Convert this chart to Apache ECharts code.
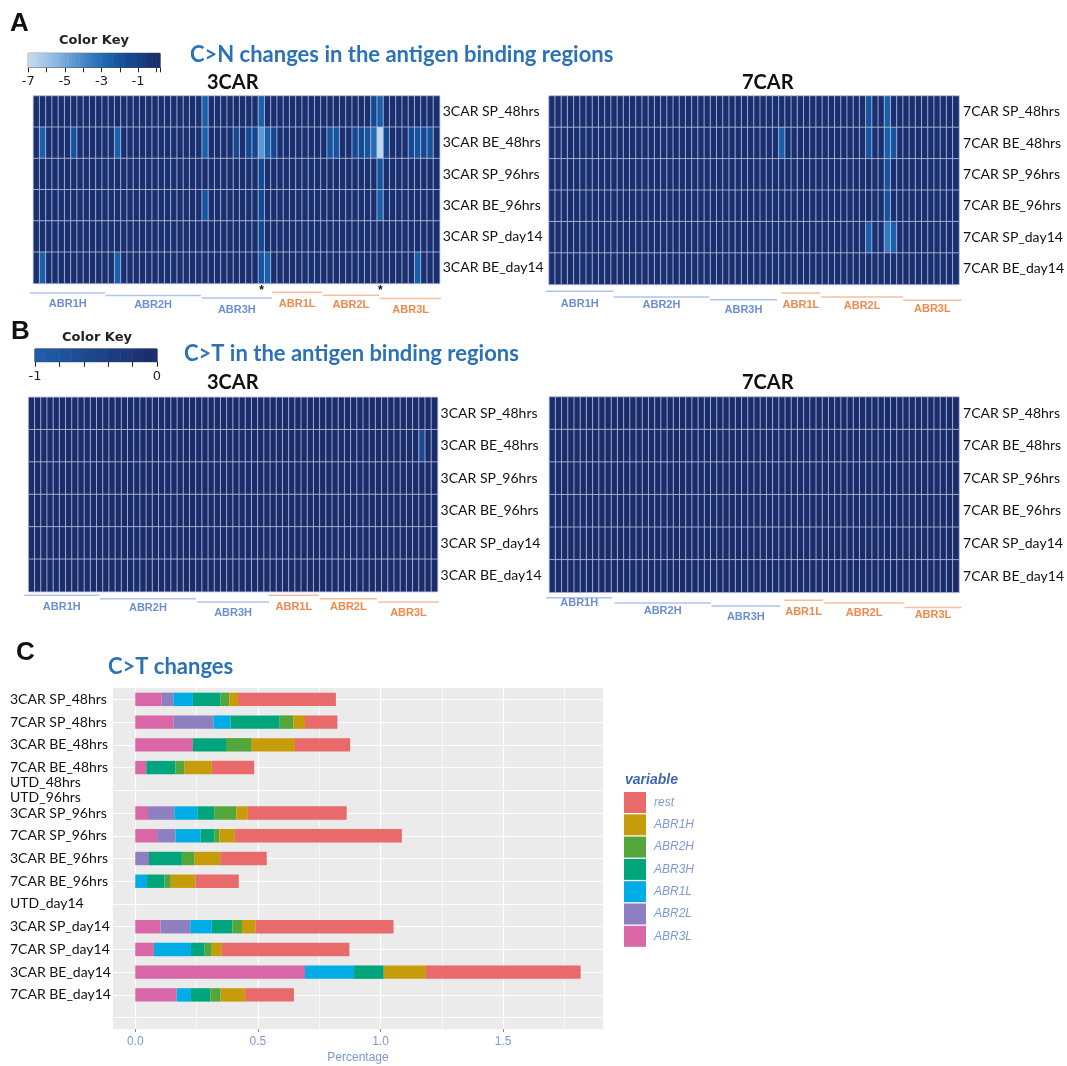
<!DOCTYPE html>
<html><head><meta charset="utf-8">
<script src="https://cdn.jsdelivr.net/npm/echarts@6/dist/echarts.min.js"></script>
<style>html,body{margin:0;padding:0;background:#fff}#c{width:1067px;height:1066px}</style>
</head><body><div id="c"></div>
<script>
// ---------------- DATA ----------------
const rows3 = ['3CAR SP_48hrs','3CAR BE_48hrs','3CAR SP_96hrs','3CAR BE_96hrs','3CAR SP_day14','3CAR BE_day14'];
const rows7 = ['7CAR SP_48hrs','7CAR BE_48hrs','7CAR SP_96hrs','7CAR BE_96hrs','7CAR SP_day14','7CAR BE_day14'];

// Panel A, 3CAR (C>N, log scale values), 65 positions
const a3SP48 = [
 0,0,0,0,0,0,0,0,0,0,
 0,0,0,0,0,0,0,0,0,0,
 0,0,0,0,0,0,0,-2.5,0,0,
 0,0,0,0,0,0,-2.5,0,0,0,
 0,0,0,0,0,0,0,0,0,0,
 0,0,0,0,-1.5,-2.5,0,0,0,0,
 0,0,0,0,0];
const a3BE48 = [
 0,-2.5,0,0,0,0,-2,0,0,0,
 0,0,0,-2.5,0,0,0,0,0,0,
 0,0,0,0,0,0,0,-2.5,0,0,
 0,0,-1.5,0,-1.5,-1.5,-4.5,-2.5,-1.5,0,
 0,0,0,0,0,0,0,-2,-2,0,
 0,-1.5,-1.5,-2,-3,-6.8,-1.5,0,0,0,
 -1.5,-2,-1.5,-2,0];
const a3SP96 = [
 0,0,0,0,0,0,0,0,0,0,
 0,0,0,0,0,0,0,0,0,0,
 0,0,0,0,0,0,0,0,0,0,
 0,0,0,0,0,0,-1.5,0,0,0,
 0,0,0,0,0,0,0,0,0,0,
 0,0,0,0,0,-2,0,0,0,0,
 0,0,0,0,0];
const a3BE96 = [
 0,0,0,0,0,0,0,0,0,0,
 0,0,0,0,0,0,0,0,0,0,
 0,0,0,0,0,0,0,-2,0,0,
 0,0,0,0,0,0,-1.5,0,0,0,
 0,0,0,0,0,0,0,0,0,0,
 0,0,0,0,0,-2.5,0,0,0,0,
 0,0,0,0,0];
const a3SPd14 = [
 0,0,0,0,0,0,0,0,0,0,
 0,0,0,0,0,0,0,0,0,0,
 0,0,0,0,0,0,0,0,0,0,
 0,0,0,0,0,0,-1.5,0,0,0,
 0,0,0,0,0,0,0,0,0,0,
 0,0,0,0,0,0,0,0,0,0,
 0,0,0,0,0];
const a3BEd14 = [
 0,-2.5,0,0,0,0,0,0,0,0,
 0,0,0,-2.5,0,0,0,0,0,0,
 0,0,0,0,0,0,0,0,0,0,
 0,0,0,0,0,0,-2,-2.5,0,0,
 0,0,0,0,0,0,0,0,0,0,
 0,0,0,0,0,0,0,0,0,0,
 0,-2.5,0,0,0];

// Panel A, 7CAR, 66 positions
const a7SP48 = [
 0,0,0,0,0,0,0,0,0,0,
 0,0,0,0,0,0,0,0,0,0,
 0,0,0,0,0,0,0,0,0,0,
 0,0,0,0,0,0,0,0,0,0,
 0,0,0,0,0,0,0,0,0,0,
 0,-2,0,0,-2.5,0,0,0,0,0,
 0,0,0,0,0,0];
const a7BE48 = [
 0,0,0,0,0,0,0,0,0,0,
 0,0,0,0,0,0,0,0,0,0,
 0,0,0,0,0,0,0,0,0,0,
 0,0,0,0,0,0,0,-2.5,0,0,
 0,0,0,0,0,0,0,0,0,0,
 0,-2,0,0,-2.5,-2,0,0,0,0,
 0,0,0,0,0,0];
const a7SP96 = [
 0,0,0,0,0,0,0,0,0,0,
 0,0,0,0,0,0,0,0,0,0,
 0,0,0,0,0,0,0,0,0,0,
 0,0,0,0,0,0,0,0,0,0,
 0,0,0,0,0,0,0,0,0,0,
 0,0,0,0,-2,0,0,0,0,0,
 0,0,0,0,0,0];
const a7BE96 = [
 0,0,0,0,0,0,0,0,0,0,
 0,0,0,0,0,0,0,0,0,0,
 0,0,0,0,0,0,0,0,0,0,
 0,0,0,0,0,0,0,0,0,0,
 0,0,0,0,0,0,0,0,0,0,
 0,0,0,0,-2,0,0,0,0,0,
 0,0,0,0,0,0];
const a7SPd14 = [
 0,0,0,0,0,0,0,0,0,0,
 0,0,0,0,0,0,0,0,0,0,
 0,0,0,0,0,0,0,0,0,0,
 0,0,0,0,0,0,0,0,0,0,
 0,0,0,0,0,0,0,0,0,0,
 0,-2.5,0,0,-3.5,-2.5,0,0,0,0,
 0,0,0,0,0,0];
const a7BEd14 = [
 0,0,0,0,0,0,0,0,0,0,
 0,0,0,0,0,0,0,0,0,0,
 0,0,0,0,0,0,0,0,0,0,
 0,0,0,0,0,0,0,0,0,0,
 0,0,0,0,0,0,0,0,0,0,
 0,0,0,0,0,0,0,0,0,0,
 0,0,0,0,0,0];

// Panel B, 3CAR (C>T), 66 positions
const b3SP48 = [
 0,0,0,0,0,0,0,0,0,0, 0,0,0,0,0,0,0,0,0,0, 0,0,0,0,0,0,0,0,0,0,
 0,0,0,0,0,0,0,0,0,0, 0,0,0,0,0,0,0,0,0,0, 0,0,0,0,0,0,0,0,0,0, 0,0,0,0,0,0];
const b3BE48 = [
 0,0,0,0,0,0,0,0,0,0, 0,0,0,0,0,0,0,0,0,0, 0,0,0,0,0,0,0,0,0,0,
 0,0,0,0,0,0,0,0,0,0, 0,0,0,0,0,0,0,0,0,0, 0,0,0,0,0,0,0,0,0,0, 0,0,0,-0.6,0,0];
const b3SP96 = [
 0,0,0,0,0,0,0,0,0,0, 0,0,0,0,0,0,0,0,0,0, 0,0,0,0,0,0,0,0,0,0,
 0,0,0,0,0,0,0,0,0,0, 0,0,0,0,0,0,0,0,0,0, 0,0,0,0,0,0,0,0,0,0, 0,0,0,0,0,0];
const b3BE96 = [
 0,0,0,0,0,0,0,0,0,0, 0,0,0,0,0,0,0,0,0,0, 0,0,0,0,0,0,0,0,0,0,
 0,0,0,0,0,0,0,0,0,0, 0,0,0,0,0,0,0,0,0,0, 0,0,0,0,0,0,0,0,0,0, 0,0,0,0,0,0];
const b3SPd14 = [
 0,0,0,0,0,0,0,0,0,0, 0,0,0,0,0,0,0,0,0,0, 0,0,0,0,0,0,0,0,0,0,
 0,0,0,0,0,0,0,0,0,0, 0,0,0,0,0,0,0,0,0,0, 0,0,0,0,0,0,0,0,0,0, 0,0,0,0,0,0];
const b3BEd14 = [
 0,0,0,0,0,0,0,0,0,0, 0,0,0,0,0,0,0,0,0,0, 0,0,0,0,0,0,0,0,0,0,
 0,0,0,0,0,0,0,0,0,0, 0,0,0,0,0,0,0,0,0,0, 0,0,0,0,0,0,0,0,0,0, 0,0,0,0,0,0];

// Panel B, 7CAR, 66 positions
const b7SP48 = [
 0,0,0,0,0,0,0,0,0,0, 0,0,0,0,0,0,0,0,0,0, 0,0,0,0,0,0,0,0,0,0,
 0,0,0,0,0,0,0,0,0,0, 0,0,0,0,0,0,0,0,0,0, 0,0,0,0,0,0,0,0,0,0, 0,0,0,0,0,0];
const b7BE48 = [
 0,0,0,0,0,0,0,0,0,0, 0,0,0,0,0,0,0,0,0,0, 0,0,0,0,0,0,0,0,0,0,
 0,0,0,0,0,0,0,0,0,0, 0,0,0,0,0,0,0,0,0,0, 0,0,0,0,0,0,0,0,0,0, 0,0,0,0,0,0];
const b7SP96 = [
 0,0,0,0,0,0,0,0,0,0, 0,0,0,0,0,0,0,0,0,0, 0,0,0,0,0,0,0,0,0,0,
 0,0,0,0,0,0,0,0,0,0, 0,0,0,0,0,0,0,0,0,0, 0,0,0,0,0,0,0,0,0,0, 0,0,0,0,0,0];
const b7BE96 = [
 0,0,0,0,0,0,0,0,0,0, 0,0,0,0,0,0,0,0,0,0, 0,0,0,0,0,0,0,0,0,0,
 0,0,0,0,0,0,0,0,0,0, 0,0,0,0,0,0,0,0,0,0, 0,0,0,0,0,0,0,0,0,0, 0,0,0,0,0,0];
const b7SPd14 = [
 0,0,0,0,0,0,0,0,0,0, 0,0,0,0,0,0,0,0,0,0, 0,0,0,0,0,0,0,0,0,0,
 0,0,0,0,0,0,0,0,0,0, 0,0,0,0,0,0,0,0,0,0, 0,0,0,0,0,0,0,0,0,0, 0,0,0,0,0,0];
const b7BEd14 = [
 0,0,0,0,0,0,0,0,0,0, 0,0,0,0,0,0,0,0,0,0, 0,0,0,0,0,0,0,0,0,0,
 0,0,0,0,0,0,0,0,0,0, 0,0,0,0,0,0,0,0,0,0, 0,0,0,0,0,0,0,0,0,0, 0,0,0,0,0,0];

// Color key steps
const keyAVals = [-6.9,-6.7,-6.5,-6.3,-6.1,-5.9,-5.7,-5.5,-5.3,-5.1,-4.9,-4.7,-4.5,-4.3,-4.1,-3.9,-3.7,-3.5,
                  -3.3,-3.1,-2.9,-2.7,-2.5,-2.3,-2.1,-1.9,-1.7,-1.5,-1.3,-1.1,-0.9,-0.7,-0.5,-0.3,-0.1,0.1];
const keyBVals = [-0.95,-0.85,-0.75,-0.65,-0.55,-0.45,-0.35,-0.25,-0.15,-0.05];

// Antigen binding region spans (in column units)
const regionNames = ['ABR1H','ABR2H','ABR3H','ABR1L','ABR2L','ABR3L'];
const spansA3 = [[-0.5,11.5],[11.5,26.8],[26.9,38.2],[38.2,46.2],[46.3,55.3],[55.5,65.2]];
const spansA7 = [[-0.5,10.4],[10.4,25.8],[25.9,36.7],[37.4,43.7],[43.8,57],[57,66.4]];
const spansB3 = [[-0.7,11.4],[11.5,27],[27.2,38.8],[38.8,46.8],[47,56.2],[56.4,66.2]];
const spansB7 = [[-0.5,10.1],[10.5,26],[26.1,37.2],[37.8,44.1],[44.2,57.2],[57.2,66.4]];
const starColsA3 = [36, 55];

// Panel C
const catC = ['3CAR SP_48hrs','7CAR SP_48hrs','3CAR BE_48hrs','7CAR BE_48hrs','UTD_48hrs\nUTD_96hrs',
  '3CAR SP_96hrs','7CAR SP_96hrs','3CAR BE_96hrs','7CAR BE_96hrs','UTD_day14',
  '3CAR SP_day14','7CAR SP_day14','3CAR BE_day14','7CAR BE_day14',''];
const ABR3L = [0.108,0.155,0.235,0.045,0,0.052,0.089,0,0,0,0.103,0.076,0.692,0.169,0];
const ABR2L = [0.047,0.165,0,0,0,0.107,0.075,0.056,0,0,0.121,0,0,0,0];
const ABR1L = [0.080,0.068,0,0,0,0.094,0.102,0,0.048,0,0.088,0.151,0.200,0.058,0];
const ABR3H = [0.113,0.201,0.135,0.119,0,0.069,0.056,0.134,0.071,0,0.084,0.056,0.121,0.079,0];
const ABR2H = [0.035,0.055,0.105,0.037,0,0.090,0.021,0.052,0.026,0,0.039,0.029,0,0.042,0];
const ABR1H = [0.036,0.048,0.176,0.111,0,0.047,0.063,0.104,0.100,0,0.056,0.041,0.172,0.100,0];
const rest  = [0.399,0.132,0.225,0.173,0,0.403,0.681,0.190,0.177,0,0.562,0.520,0.631,0.199,0];
const legendOrder = ['rest','ABR1H','ABR2H','ABR3H','ABR1L','ABR2L','ABR3L'];
const pctMajor = [0, 0.5, 1.0, 1.5];
const pctMinor = [0.25, 0.75, 1.25, 1.75];

// ---------------- CHART ----------------
const FONT_L = 'Lato, "Open Sans", sans-serif';
const FONT_A = '"Liberation Sans", Arial, sans-serif';
const FONT_D = '"DejaVu Sans", Verdana, sans-serif';
const colors = {rest:'#E96A6A', ABR1H:'#C69C0A', ABR2H:'#52A63A', ABR3H:'#00A57B', ABR1L:'#00ADE6', ABR2L:'#8E80C0', ABR3L:'#D966A6'};

const chart = echarts.init(document.getElementById('c'));
const grids = [], xAxes = [], yAxes = [], series = [];

const heatSets = [
  {rows:[a3SP48,a3BE48,a3SP96,a3BE96,a3SPd14,a3BEd14], names:rows3, grid:{left:33.4, top:96, width:406.3, height:187.5}, margin:3},
  {rows:[a7SP48,a7BE48,a7SP96,a7BE96,a7SPd14,a7BEd14], names:rows7, grid:{left:549, top:96, width:413, height:188.5}, margin:4},
  {rows:[b3SP48,b3BE48,b3SP96,b3BE96,b3SPd14,b3BEd14], names:rows3, grid:{left:28.6, top:397.3, width:409, height:194.4}, margin:3},
  {rows:[b7SP48,b7BE48,b7SP96,b7BE96,b7SPd14,b7BEd14], names:rows7, grid:{left:549.4, top:397, width:414, height:195.4}, margin:4}
];
heatSets.forEach((h,i)=>{
  grids.push(Object.assign({}, h.grid));
  xAxes.push({type:'category', gridIndex:i, data:h.rows[0].map((_,c)=>String(c)), show:false});
  yAxes.push({type:'category', gridIndex:i, data:h.names, inverse:true, position:'right',
    axisLine:{show:false}, axisTick:{show:false}, splitLine:{show:false},
    axisLabel:{margin:h.margin, fontSize:14, color:'#111', fontFamily:FONT_L, interval:0}});
  const data=[]; h.rows.forEach((r,y)=>r.forEach((v,x)=>data.push([x,y,v])));
  series.push({type:'heatmap', xAxisIndex:i, yAxisIndex:i, data, silent:true, progressive:0,
    itemStyle:{borderColor:'rgba(188,196,224,0.78)', borderWidth:1}, emphasis:{disabled:true}});
});

// color keys
const keys = [
  {vals:keyAVals, grid:{left:28.3, top:53.3, width:131.7, height:14}, min:-7, max:0.2, interval:1,
   fmt:v=>{const r=Math.round(v); return (Math.abs(v-r)<1e-6 && r%2!==0) ? String(r) : '';}},
  {vals:keyBVals, grid:{left:35, top:349, width:122, height:12.7}, min:-1, max:0, interval:0.2,
   fmt:v=>Math.abs(v+1)<1e-6 ? '-1' : (Math.abs(v)<1e-6 ? '0' : '')}
];
keys.forEach((k,j)=>{
  const gi = 4+j;
  grids.push(Object.assign({show:true, borderColor:'#222', borderWidth:1, backgroundColor:'transparent'}, k.grid));
  const xc = xAxes.length;
  xAxes.push({type:'category', gridIndex:gi, data:k.vals.map((_,c)=>String(c)), show:false, position:'top'});
  xAxes.push({type:'value', gridIndex:gi, position:'bottom', min:k.min, max:k.max, interval:k.interval,
    splitLine:{show:false}, axisLine:{show:false},
    axisTick:{show:true, length:5, lineStyle:{color:'#222', width:1}},
    axisLabel:{formatter:k.fmt, fontSize:13, color:'#222', margin:8, fontFamily:FONT_D}});
  const yc = yAxes.length;
  yAxes.push({type:'category', gridIndex:gi, data:['k'], show:false});
  series.push({type:'heatmap', xAxisIndex:xc, yAxisIndex:yc, silent:true,
    data:k.vals.map((v,c)=>[c,0,v]), itemStyle:{borderWidth:0}});
});

// bar chart
grids.push({left:113, top:688, width:490, height:341, show:true, backgroundColor:'#EBEBEB', borderWidth:0});
const barX = xAxes.length, barY = yAxes.length;
xAxes.push({type:'value', gridIndex:6, min:-0.0908, max:1.907, splitLine:{show:false}, axisLine:{show:false},
  axisTick:{show:true, customValues:pctMajor, length:3, lineStyle:{color:'#8a8a8a'}},
  axisLabel:{customValues:pctMajor, formatter:v=>v.toFixed(1), color:'#7C9AD2', fontSize:12, margin:7, fontFamily:FONT_A},
  name:'Percentage', nameLocation:'middle', nameGap:23, nameTextStyle:{color:'#7C9AD2', fontSize:12, fontFamily:FONT_A}});
yAxes.push({type:'category', gridIndex:6, data:catC, inverse:true, axisLine:{show:false}, axisTick:{show:false},
  splitLine:{show:false}, axisLabel:{align:'left', margin:103, fontSize:14, color:'#111', fontFamily:FONT_L, interval:0, lineHeight:15}});

const stackOrder = [['ABR3L',ABR3L],['ABR2L',ABR2L],['ABR1L',ABR1L],['ABR3H',ABR3H],['ABR2H',ABR2H],['ABR1H',ABR1H],['rest',rest]];
stackOrder.forEach(([name,vals],i)=>{
  const s = {type:'bar', name, xAxisIndex:barX, yAxisIndex:barY, stack:'tot', data:vals, barWidth:'59%',
    silent:true, itemStyle:{color:colors[name]}, z:3};
  if(i===0){
    s.markLine = {silent:true, symbol:'none', z:1, animation:false, label:{show:false},
      lineStyle:{color:'#ffffff', width:1.2, type:'solid'}, emphasis:{disabled:true},
      data:[].concat(
        pctMajor.map(v=>({xAxis:v})),
        pctMinor.map(v=>({xAxis:v, lineStyle:{color:'#ffffff', width:0.6, type:'solid'}})),
        catC.map((c,ci)=>({yAxis:ci}))
      )};
  }
  series.push(s);
});

const option = {
  animation:false,
  backgroundColor:'#ffffff',
  grid:grids, xAxis:xAxes, yAxis:yAxes, series,
  visualMap:[
    {type:'continuous', show:false, min:-7, max:0.2, seriesIndex:[0,1,4], dimension:2,
     inRange:{color:['#C8DCF0','#A6C8E8','#7EAFDC','#5592CD','#2E76BC','#1860AA','#144A95','#163A80','#1B2C6A']}},
    {type:'continuous', show:false, min:-1, max:0, seriesIndex:[2,3,5], dimension:2,
     inRange:{color:['#1F5EAC','#1B2C6A']}}
  ],
  legend:{data:legendOrder, orient:'vertical', left:624, top:792, itemWidth:22, itemHeight:21, itemGap:1.3,
    icon:'rect', padding:0, selectedMode:false,
    textStyle:{fontStyle:'italic', color:'#7E9BD3', fontSize:12, fontFamily:FONT_A, padding:[0,0,0,3]}}
};
chart.setOption(option);

// ---------------- ANNOTATIONS ----------------
function txt(text, x, y, font, fill, align){
  return {type:'text', x, y, silent:true, z:10, style:{text, font, fill, align:align||'left', verticalAlign:'middle'}};
}
const g = [
  txt('A', 10, 24, 'bold 26px '+FONT_A, '#111'),
  txt('B', 11, 332, 'bold 26px '+FONT_A, '#111'),
  txt('C', 16, 653, 'bold 26px '+FONT_A, '#111'),
  txt('Color Key', 94, 41, 'bold 13px '+FONT_D, '#222', 'center'),
  txt('Color Key', 97, 338, 'bold 13px '+FONT_D, '#222', 'center'),
  txt('C>N changes in the antigen binding regions', 190, 55, 'bold 22px '+FONT_L, '#2B72B6'),
  txt('3CAR', 207, 83, 'bold 20px '+FONT_L, '#111'),
  txt('7CAR', 742, 83, 'bold 20px '+FONT_L, '#111'),
  txt('C>T in the antigen binding regions', 184, 354, 'bold 22px '+FONT_L, '#2B72B6'),
  txt('3CAR', 207, 383, 'bold 20px '+FONT_L, '#111'),
  txt('7CAR', 742, 383, 'bold 20px '+FONT_L, '#111'),
  txt('C>T changes', 108, 667, 'bold 22px '+FONT_L, '#2B72B6'),
  txt('variable', 625, 780, 'bold italic 14px '+FONT_A, '#3E66B0')
];
const bracketSets = [
  {axis:0, spans:spansA3, lineOff:[9.4,12,14.4,8.7,11.7,15], labOff:[20,21,26,20,21,26], stars:starColsA3},
  {axis:1, spans:spansA7, lineOff:[6.7,12.5,15.2,8.4,12.5,15.8], labOff:[19.2,20.2,25.9,20.2,21.9,24.3], stars:[]},
  {axis:2, spans:spansB3, lineOff:[3.6,7,10.3,3.6,7,10.3], labOff:[15,16.6,21.6,15,15.6,21.6], stars:[]},
  {axis:3, spans:spansB7, lineOff:[5.4,10.5,13.6,7.8,10.5,15.2], labOff:[11,18.6,24.6,19.6,20.2,22.2], stars:[]}
];
bracketSets.forEach(s=>{
  const x0 = chart.convertToPixel({xAxisIndex:s.axis}, 0);
  const x1 = chart.convertToPixel({xAxisIndex:s.axis}, 1);
  const w = x1 - x0, left = x0 - w/2;
  const y4 = chart.convertToPixel({yAxisIndex:s.axis}, 4);
  const y5 = chart.convertToPixel({yAxisIndex:s.axis}, 5);
  const bottom = y5 + Math.abs(y5 - y4)/2;
  regionNames.forEach((nm,i)=>{
    const isH = nm.endsWith('H');
    const xa = left + s.spans[i][0]*w, xb = left + s.spans[i][1]*w;
    g.push({type:'line', silent:true, z:10, shape:{x1:xa, y1:bottom+s.lineOff[i], x2:xb, y2:bottom+s.lineOff[i]},
      style:{stroke:isH?'#AFC3EC':'#F6BE9D', lineWidth:1.5}});
    g.push(txt(nm, (xa+xb)/2, bottom+s.labOff[i], 'bold 11px '+FONT_A, isH?'#6C8FD3':'#EE8A4E', 'center'));
  });
  s.stars.forEach(c=>{
    g.push(txt('*', left + (c+0.5)*w, bottom+7, 'bold 12px '+FONT_A, '#111', 'center'));
  });
});
chart.setOption({graphic:g});
</script>
</body></html>
